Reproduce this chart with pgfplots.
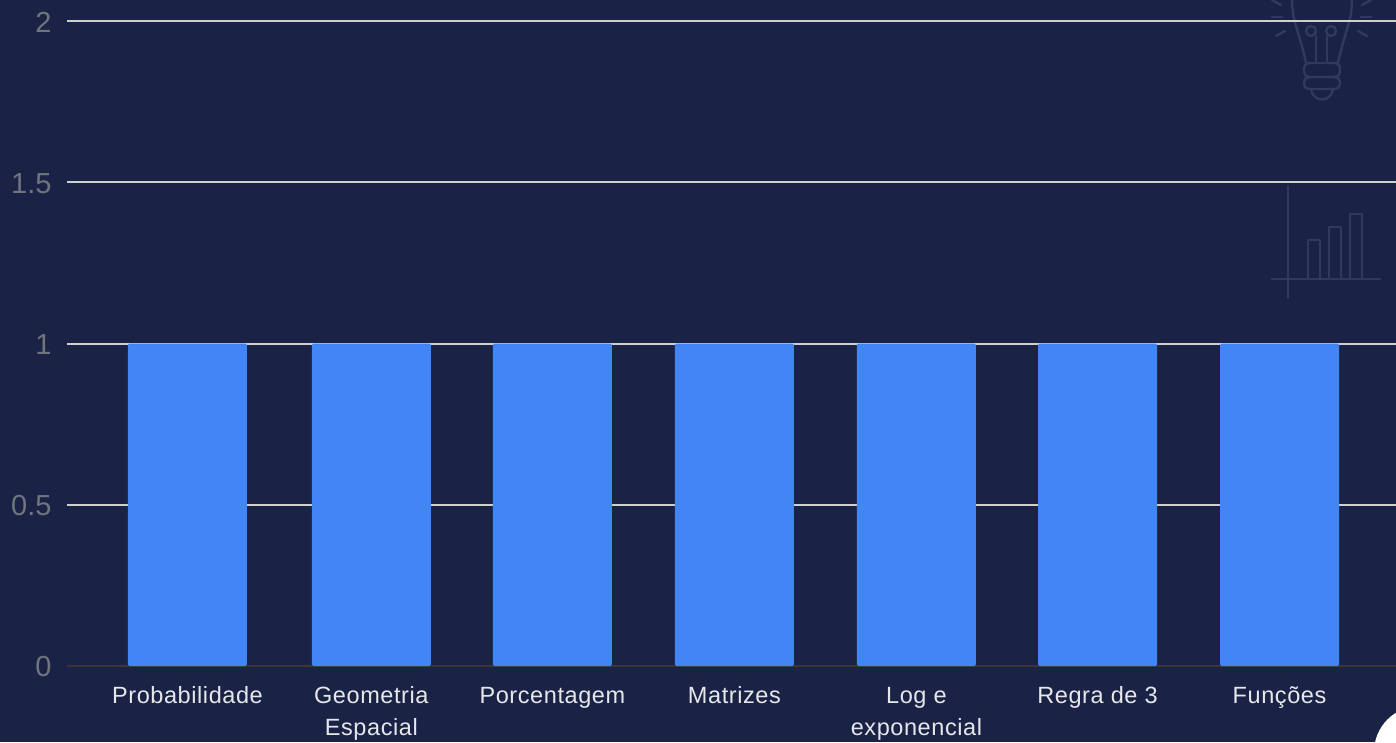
\documentclass[border=0pt]{standalone}
\usepackage{pgfplots}
\pgfplotsset{compat=1.18}
\usepackage{fontspec}
\setmainfont{Liberation Sans}
\definecolor{panel}{HTML}{1A2346}
\definecolor{barblue}{HTML}{4285F4}
\definecolor{gridc}{HTML}{CFCFCC}
\definecolor{ticknum}{HTML}{70747C}
\definecolor{catlabel}{HTML}{E6E7EA}
\definecolor{iconc}{HTML}{2F3A5C}
\definecolor{zeroline}{HTML}{3A3636}
\begin{document}
\begin{tikzpicture}[x=1pt,y=1pt]
\useasboundingbox (0,0) rectangle (1396,742);
\clip (0,0) rectangle (1396,742);
\fill[panel] (0,0) rectangle (1396,742);
% faint decorative icons behind the plot
\begin{scope}[x=1pt,y=-1pt,yshift=742pt,draw=iconc,line width=2.4pt,line cap=round,line join=round]
  % light bulb
  \draw (1292,-3) .. controls (1292,12) and (1294,20) .. (1297,29) .. controls (1300,40) and (1304,52) .. (1306,63);
  \draw (1352,-3) .. controls (1352,12) and (1350,20) .. (1347,29) .. controls (1344,40) and (1340,52) .. (1338,63);
  \draw[rounded corners=5pt] (1304,63) rectangle (1340,77);
  \draw[rounded corners=5pt] (1304,77) rectangle (1340,89);
  \draw (1311,89) .. controls (1313,103) and (1331,103) .. (1333,89);
  \draw (1311,31) circle (5);
  \draw (1331,31) circle (5);
  \draw (1316,36) -- (1316,63);
  \draw (1327,36) -- (1327,63);
  \draw (1272,17) -- (1282,17);  \draw (1361,17) -- (1371,17);
  \draw (1276,36) -- (1285,31);  \draw (1358,31) -- (1367,36);
  \draw (1272,0) -- (1281,5);    \draw (1362,5) -- (1371,0);
  % small bar chart
  \draw (1288,186) -- (1288,298);
  \draw (1272,279) -- (1380,279);
  \draw (1308,279) -- (1308,240) -- (1320,240) -- (1320,279);
  \draw (1329,279) -- (1329,227) -- (1341,227) -- (1341,279);
  \draw (1350,279) -- (1350,214) -- (1362,214) -- (1362,279);
\end{scope}
\begin{axis}[
  at={(67pt,76pt)}, anchor=south west,
  scale only axis, width=1329pt, height=645pt,
  xmin=-0.662, xmax=6.640, ymin=0, ymax=2,
  axis x line=bottom, axis y line=left,
  x axis line style={-,draw=zeroline,line width=1.2pt},
  y axis line style={draw=none},
  axis on top=false,
  clip=false,
  ytick={0.5,1,1.5,2},
  yticklabels={0.5,1,1.5,2},
  extra y ticks={0},
  extra y tick labels={0},
  extra tick style={grid=none},
  ymajorgrids,
  grid style={draw=gridc,line width=2pt},
  major tick length=0pt,
  xtick={0,1.01,2.005,3.005,4.005,5,6},
  xticklabels={\strut Probabilidade,{\strut Geometria\\\strut Espacial},\strut Porcentagem,\strut Matrizes,{\strut Log e\\\strut exponencial},\strut Regra de 3,\strut Funções},
  xticklabel style={font=\fontsize{23.5}{32}\selectfont\addfontfeatures{LetterSpace=2.5},text=catlabel,align=center,anchor=north,yshift=-12pt},
  yticklabel style={font=\fontsize{29}{32}\selectfont,text=ticknum,anchor=east,xshift=-12pt,yshift=-1pt},
  /pgf/number format/assume math mode=true,
  ybar, bar width=119pt, bar shift=0pt,
]
\addplot[fill=barblue,draw=none,rounded corners=1.5pt] coordinates {
  (0,1) (1.01,1) (2.005,1) (3.005,1) (4.005,1) (5,1) (6,1)};
\end{axis}
% white disc in the lower right corner
\fill[white] (1420,-10) circle (46);
\end{tikzpicture}
\end{document}
